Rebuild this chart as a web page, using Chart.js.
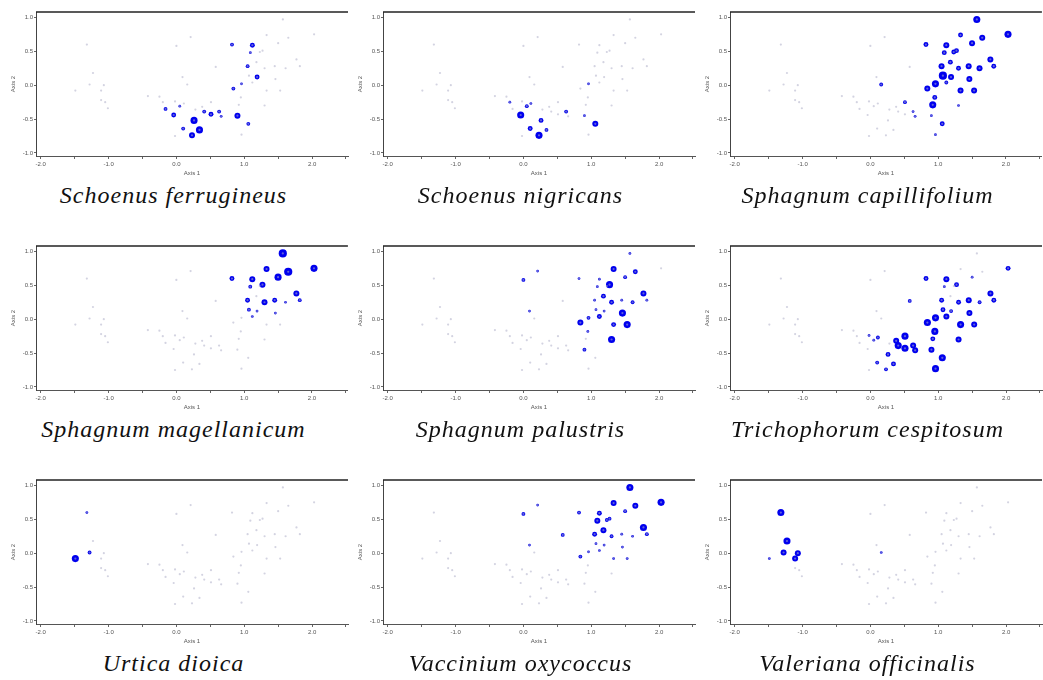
<!DOCTYPE html>
<html>
<head>
<meta charset="utf-8">
<script src="https://cdn.jsdelivr.net/npm/chart.js@4.4.1/dist/chart.umd.min.js"></script>
<style>
  html, body { margin: 0; padding: 0; background: #fff; }
  body { width: 1043px; height: 680px; position: relative; overflow: hidden; }
  .cell { position: absolute; width: 350px; height: 234px; }
  .cell canvas { position: absolute; left: 0; top: 0; }
  .name {
    position: absolute; left: 0; width: 347px; top: 183px;
    text-align: center; white-space: nowrap;
    font-family: "Liberation Serif", "Times New Roman", serif;
    font-style: italic; font-size: 24px; line-height: 24px;
    letter-spacing: 1px; color: #111;
  }
</style>
</head>
<body>
<script>
// Ordination scores of the relevés (site 1 = index 0)
const siteX = [1.57, 2.03, 1.33, 1.65, 0.21, 0.00, 0.82, 1.12, 1.50, 1.09,
               1.27, 1.23, 1.18, 1.77, 1.82, 1.61, 1.45, 1.30, 1.05, 0.58,
               1.07, 1.19, 1.46, 1.12, 0.96, 0.09, 0.16, 0.84, 1.33, 1.53,
               0.95, 0.92, 1.30, 0.90, 1.06, 0.96, -1.32, -1.23, -1.28, -1.07,
               -1.11, -1.49, -1.11, -1.05, -1.01, -0.42, -0.25, -0.20, -0.02, 0.11,
               0.05, -0.16, 0.51, 0.38, 0.41, 0.63, 0.66, 0.51, -0.04, 0.26,
               0.34, 0.10, 0.23, -0.02, 0.28];
const siteY = [0.97, 0.75, 0.74, 0.70, 0.71, 0.58, 0.60, 0.59, 0.62, 0.48,
               0.51, 0.49, 0.34, 0.38, 0.28, 0.25, 0.28, 0.25, 0.28, 0.27,
               0.14, 0.12, 0.09, 0.04, 0.02, 0.12, 0.01, -0.05, -0.08, -0.08,
               -0.18, -0.29, -0.30, -0.45, -0.57, -0.73, 0.60, 0.18, 0.01, 0.00,
               -0.08, -0.08, -0.22, -0.25, -0.34, -0.16, -0.17, -0.25, -0.24, -0.27,
               -0.31, -0.35, -0.25, -0.32, -0.39, -0.39, -0.46, -0.43, -0.44, -0.52,
               -0.66, -0.64, -0.74, -0.75, -0.36];

// Species cover per site: [site number, cover class]
const schoenusFerrugineus = [[7,2],[8,3],[10,1],[19,2],[22,3],[25,1],[28,2],[51,1],[52,2],[55,2],
  [56,2],[57,1],[58,3],[59,3],[34,4],[60,5],[61,5],[62,2],[35,2],[63,4]];
const schoenusNigricans = [[25,1],[48,1],[51,2],[50,1],[59,5],[60,3],[62,3],[61,2],[63,5],[56,2],
  [34,1],[35,4]];
const sphagnumCapillifolium = [[1,5],[2,5],[3,3],[4,4],[7,3],[8,4],[9,4],[10,3],[11,3],[12,3],
  [13,3],[14,4],[15,3],[16,4],[17,4],[18,3],[19,4],[21,6],[22,4],[23,4],[24,2],[25,5],[27,2],
  [28,4],[29,4],[30,4],[31,3],[32,5],[53,2],[33,1],[56,1],[57,1],[34,1],[35,3],[36,1]];
const sphagnumMagellanicum = [[1,6],[2,5],[3,4],[4,6],[9,5],[7,3],[8,4],[10,2],[11,4],[14,4],
  [15,2],[16,1],[17,3],[18,4],[19,3],[21,2],[22,1],[23,1],[24,1]];
const sphagnumPalustris = [[1,1],[3,4],[4,3],[9,2],[7,1],[8,1],[6,2],[5,1],[10,1],[11,5],
  [13,3],[14,4],[15,1],[16,2],[17,1],[18,3],[19,1],[26,1],[21,1],[22,1],[23,5],[24,3],[25,2],
  [28,4],[29,3],[30,5],[31,1],[33,5],[34,2]];
const trichophorumCespitosum = [[2,3],[9,1],[7,3],[8,4],[10,1],[11,3],[14,4],[15,3],[16,2],[17,4],
  [18,3],[19,3],[20,2],[21,3],[22,2],[23,4],[24,4],[25,5],[28,5],[29,5],[30,4],[31,5],[32,3],
  [33,4],[34,4],[35,5],[36,5],[49,1],[51,1],[50,2],[53,5],[54,4],[55,5],[58,5],[56,4],[57,4],
  [60,3],[61,3],[62,2],[63,2]];
const urticaDioica = [[37,1],[39,2],[42,5]];
const vacciniumOxycoccus = [[1,5],[2,5],[3,4],[4,4],[9,2],[7,2],[8,3],[6,2],[5,1],[10,4],
  [11,2],[12,2],[13,4],[14,5],[15,2],[16,1],[17,1],[18,2],[19,3],[20,2],[26,1],[21,1],[22,1],
  [23,1],[24,1],[25,1],[28,2],[29,1],[30,1]];
const valerianaOfficinalis = [[37,5],[38,5],[39,4],[40,4],[41,4],[42,1],[27,1]];

const speciesNames = ['Schoenus ferrugineus', 'Schoenus nigricans', 'Sphagnum capillifolium',
  'Sphagnum magellanicum', 'Sphagnum palustris', 'Trichophorum cespitosum',
  'Urtica dioica', 'Vaccinium oxycoccus', 'Valeriana officinalis'];
const speciesCovers = [schoenusFerrugineus, schoenusNigricans, sphagnumCapillifolium,
  sphagnumMagellanicum, sphagnumPalustris, trichophorumCespitosum,
  urticaDioica, vacciniumOxycoccus, valerianaOfficinalis];

// Axis ticks
const xTickValues = [-2.0, -1.5, -1.0, -0.5, 0.0, 0.5, 1.0, 1.5, 2.0, 2.5];
const xTickLabels = ['-2.0', '', '-1.0', '', '0.0', '', '1.0', '', '2.0', ''];
const yTickValues = [-1.0, -0.5, 0.0, 0.5, 1.0];
const yTickLabels = ['-1.0', '-0.5', '0.0', '0.5', '1.0'];

// Panel geometry
const cellLeft = [0, 347, 694];
const cellTop = [0, 234, 468];
const coverRadius = c => 0.8 + 0.55 * c;

const topFrame = {
  id: 'topFrame',
  afterDraw(chart) {
    const { ctx, chartArea } = chart;
    ctx.save();
    ctx.strokeStyle = '#222';
    ctx.lineWidth = 1.5;
    ctx.beginPath();
    ctx.moveTo(chartArea.left, chartArea.top);
    ctx.lineTo(chartArea.right, chartArea.top);
    ctx.stroke();
    ctx.restore();
  }
};

const tickFont = { family: 'Liberation Sans, Arial, sans-serif', size: 6 };

speciesNames.forEach((name, i) => {
  const cell = document.createElement('div');
  cell.className = 'cell';
  cell.style.left = cellLeft[i % 3] + 'px';
  cell.style.top = cellTop[Math.floor(i / 3)] + 'px';
  const canvas = document.createElement('canvas');
  canvas.width = 352; canvas.height = 182;
  canvas.style.width = '352px'; canvas.style.height = '182px';
  cell.appendChild(canvas);
  const label = document.createElement('div');
  label.className = 'name';
  label.textContent = name;
  cell.appendChild(label);
  document.body.appendChild(cell);

  const sites = siteX.map((x, k) => ({ x, y: siteY[k] }));
  const cover = speciesCovers[i];
  const present = cover.map(([s]) => ({ x: siteX[s - 1], y: siteY[s - 1] }));
  const radii = cover.map(([, c]) => coverRadius(c));

  new Chart(canvas, {
    type: 'scatter',
    data: {
      datasets: [
        { data: sites, pointRadius: 1.1, pointBorderWidth: 0,
          pointBackgroundColor: 'rgba(175,175,200,0.55)' },
        { data: present, pointRadius: radii, pointBorderWidth: 0,
          pointBackgroundColor: '#0000ee' }
      ]
    },
    options: {
      responsive: false, animation: false, events: [],
      layout: { padding: { top: 12, right: 4, left: 0, bottom: 0 } },
      plugins: { legend: { display: false }, tooltip: { enabled: false } },
      scales: {
        x: {
          type: 'linear', min: -2.07, max: 2.53,
          afterBuildTicks: s => { s.ticks = xTickValues.map(v => ({ value: v })); },
          afterFit: s => { s.height = 26; },
          ticks: { autoSkip: false, maxRotation: 0, padding: 2, color: '#555', font: tickFont,
                   callback: (v, k) => xTickLabels[k] },
          grid: { drawOnChartArea: false, tickLength: 3, color: '#666' },
          border: { display: true, color: '#555', width: 1 },
          title: { display: true, text: 'Axis 1', color: '#555', font: tickFont,
                   padding: { top: 0, bottom: 5 } }
        },
        y: {
          type: 'linear', min: -1.045, max: 1.08,
          afterBuildTicks: s => { s.ticks = yTickValues.map(v => ({ value: v })); },
          afterFit: s => { s.width = 36; },
          ticks: { autoSkip: false, padding: 1, color: '#555', font: tickFont,
                   callback: (v, k) => yTickLabels[k] },
          grid: { drawOnChartArea: false, tickLength: 2, color: '#666' },
          border: { display: true, color: '#444', width: 1 },
          title: { display: true, text: 'Axis 2', color: '#555', font: tickFont,
                   padding: { top: 10, bottom: 0 } }
        }
      }
    },
    plugins: [topFrame]
  });
});
</script>
</body>
</html>
